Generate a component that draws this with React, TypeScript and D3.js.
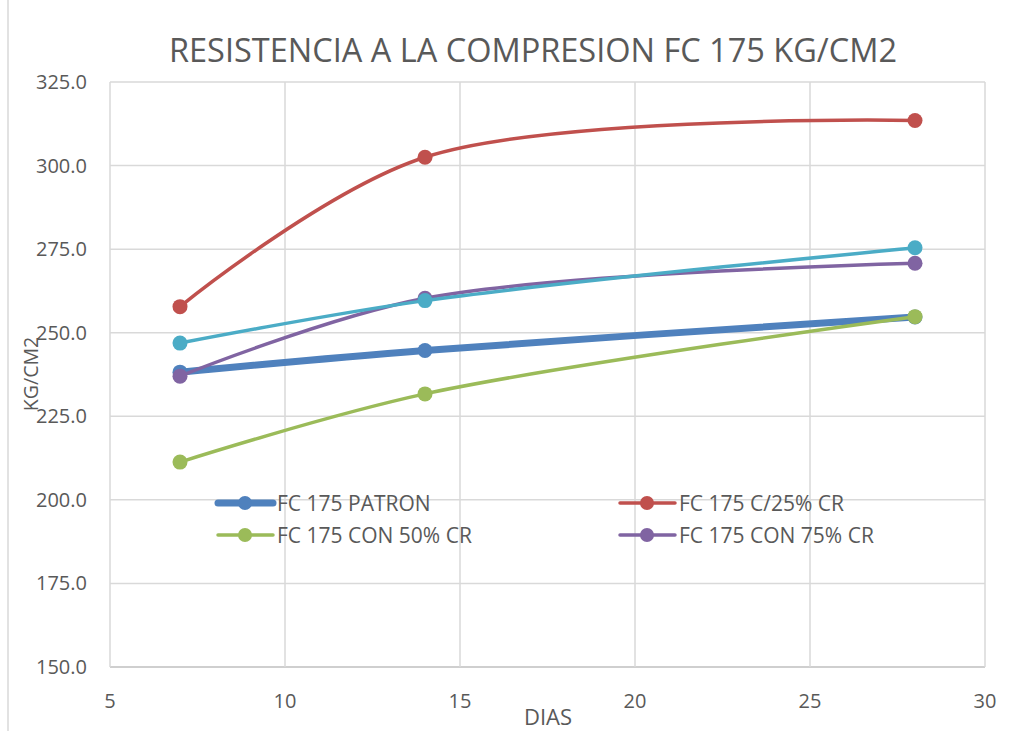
import React from "react";
import * as d3 from "d3";

const days = [7, 14, 28];
const patron = [238.2, 244.7, 254.7];
const cr25 = [257.8, 302.5, 313.5];
const cr50 = [211.3, 231.7, 254.8];
const cr75 = [237.0, 260.3, 270.8];
const extra = [246.9, 259.6, 275.4];
const xTicks = [5, 10, 15, 20, 25, 30];
const yTicks = [150, 175, 200, 225, 250, 275, 300, 325];

const W = 1023, H = 731;
const font = "'Open Sans', sans-serif";
const textColor = "#595959";

export default function App() {
  const x = d3.scaleLinear().domain([5, 30]).range([110, 985]);
  const y = d3.scaleLinear().domain([150, 325]).range([667, 82]);
  const line = d3
    .line<number>()
    .x((_, i) => x(days[i]))
    .y((d) => y(d))
    .curve(d3.curveCatmullRom.alpha(0.5));

  const series = [
    { name: "FC 175 PATRON", data: patron, color: "#4F81BD", w: 7 },
    { name: "FC 175 C/25% CR", data: cr25, color: "#C0504D", w: 3.5 },
    { name: "FC 175 CON 50% CR", data: cr50, color: "#9BBB59", w: 3.5 },
    { name: "FC 175 CON 75% CR", data: cr75, color: "#8064A2", w: 3.5 },
    { name: "", data: extra, color: "#4BACC6", w: 3.5 },
  ];
  const drawOrder = [0, 1, 2, 3, 4];
  const legendPos = [
    [218, 503],
    [620, 503],
    [218, 535],
    [620, 535],
  ];

  return (
    <svg width={W} height={H} style={{ position: "absolute", left: 0, top: 0, background: "#fff" }}>
      <line x1={8} x2={8} y1={0} y2={H} stroke="#d9d9d9" strokeWidth={1.5} />
      <text x={533} y={62} textAnchor="middle" fontFamily={font} fontSize={32.5} fill={textColor}>
        RESISTENCIA A LA COMPRESION FC 175 KG/CM2
      </text>
      {yTicks.map((t) => (
        <g key={"y" + t}>
          <line x1={110} x2={985} y1={y(t)} y2={y(t)} stroke={t === 150 ? "#bfbfbf" : "#d9d9d9"} strokeWidth={1.5} />
          <text x={87} y={y(t) + 7} textAnchor="end" fontFamily={font} fontSize={20} fill={textColor}>
            {t.toFixed(1)}
          </text>
        </g>
      ))}
      {xTicks.map((t) => (
        <g key={"x" + t}>
          {t > 5 && <line x1={x(t)} x2={x(t)} y1={82} y2={667} stroke="#d9d9d9" strokeWidth={1.5} />}
          <text x={x(t)} y={708} textAnchor="middle" fontFamily={font} fontSize={20} fill={textColor}>
            {t}
          </text>
        </g>
      ))}
      <line x1={110} x2={110} y1={82} y2={667} stroke="#d9d9d9" strokeWidth={1.5} />
      <text x={548} y={725} textAnchor="middle" fontFamily={font} fontSize={22} fill={textColor}>
        DIAS
      </text>
      <text
        transform="translate(38,374) rotate(-90)"
        textAnchor="middle"
        fontFamily={font}
        fontSize={19.5}
        fill={textColor}
      >
        KG/CM2
      </text>
      {drawOrder.map((si) => {
        const s = series[si];
        return (
          <g key={"s" + si}>
            <path d={line(s.data) || ""} fill="none" stroke={s.color} strokeWidth={s.w} strokeLinecap="round" />
            {s.data.map((v, i) => (
              <circle key={i} cx={x(days[i])} cy={y(v)} r={7.5} fill={s.color} />
            ))}
          </g>
        );
      })}
      {series.slice(0, 4).map((s, i) => {
        const [lx, ly] = legendPos[i];
        return (
          <g key={"l" + i}>
            <line x1={lx} x2={lx + 55} y1={ly} y2={ly} stroke={s.color} strokeWidth={s.w} strokeLinecap="round" />
            <circle cx={lx + 27} cy={ly} r={7} fill={s.color} />
            <text x={lx + 59} y={ly + 7.5} fontFamily={font} fontSize={21} fill={textColor}>
              {s.name}
            </text>
          </g>
        );
      })}
    </svg>
  );
}
